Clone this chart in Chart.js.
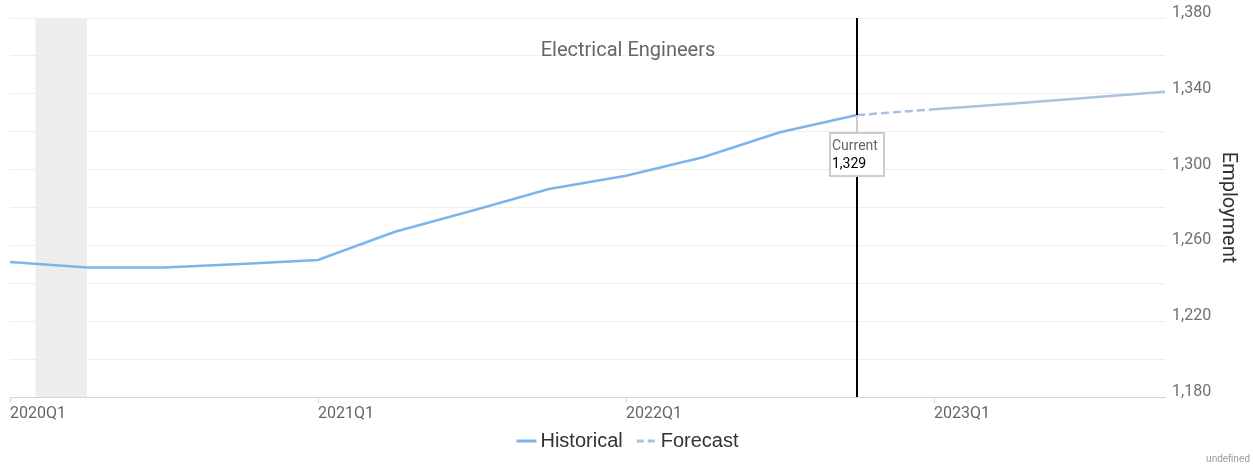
<!DOCTYPE html>
<html>
<head>
<meta charset="utf-8">
<script src="https://cdn.jsdelivr.net/npm/chart.js@4.4.0/dist/chart.umd.min.js"></script>
<style>
  html, body { margin: 0; padding: 0; background: #fff; }
  #wrap { width: 1253px; height: 467px; position: relative; }
</style>
</head>
<body>
<div id="wrap"><canvas id="employment-chart"></canvas></div>
<script>
const quarters = [
  '2020Q1', '2020Q2', '2020Q3', '2020Q4',
  '2021Q1', '2021Q2', '2021Q3', '2021Q4',
  '2022Q1', '2022Q2', '2022Q3', '2022Q4',
  '2023Q1', '2023Q2', '2023Q3', '2023Q4'
];
const historical = [1251.2, 1248.4, 1248.4, 1250.2, 1252.3, 1267.2, 1278.3, 1289.8, 1296.8, 1306.5, 1319.7, 1328.8];
const forecastStart = 11;
const forecast = [1328.8, 1331.8, 1334.8, 1337.9, 1341.1];
const yLabels = [1180, 1220, 1260, 1300, 1340, 1380];
const recession = [0.33, 1]; // Feb 2020 - Apr 2020, in quarters
const currentIndex = 11;
const chartTitle = 'Electrical Engineers';
const axisTitle = 'Employment';
const legendItems = [
  { text: 'Historical', color: '#7cb5ec', dash: [] },
  { text: 'Forecast', color: '#abc1dd', dash: [7, 4] }
];

const histPoints = historical.map((v, i) => ({ x: i, y: v }));
const forePoints = forecast.map((v, i) => ({ x: forecastStart + i, y: v }));

const extras = {
  id: 'extras',
  beforeDatasetsDraw(chart) {
    const { ctx, chartArea, scales } = chart;
    const x0 = scales.x.getPixelForValue(recession[0]);
    const x1 = scales.x.getPixelForValue(recession[1]);
    ctx.save();
    ctx.fillStyle = '#eeeeee';
    ctx.fillRect(x0, chartArea.top, x1 - x0, chartArea.bottom - chartArea.top);
    ctx.restore();
  },
  afterDatasetsDraw(chart) {
    const { ctx, chartArea, scales } = chart;
    ctx.save();
    // title
    ctx.font = '20px Roboto';
    ctx.fillStyle = '#666666';
    ctx.textAlign = 'center';
    ctx.textBaseline = 'middle';
    ctx.fillText(chartTitle, 628, 51);

    // current marker
    const cx = Math.round(scales.x.getPixelForValue(currentIndex));
    const cy = scales.y.getPixelForValue(historical[currentIndex]);
    ctx.strokeStyle = '#000';
    ctx.lineWidth = 2;
    ctx.beginPath();
    ctx.moveTo(cx, chartArea.top);
    ctx.lineTo(cx, chartArea.bottom);
    ctx.stroke();

    const boxW = 54, boxH = 43;
    const boxTop = cy + 18;
    ctx.strokeStyle = '#cccccc';
    ctx.beginPath();
    ctx.moveTo(cx, cy);
    ctx.lineTo(cx, boxTop);
    ctx.stroke();
    ctx.fillStyle = '#fff';
    ctx.fillRect(cx - boxW / 2, boxTop, boxW, boxH);
    ctx.strokeRect(cx - boxW / 2, boxTop, boxW, boxH);
    ctx.textAlign = 'left';
    ctx.font = '14px Roboto';
    ctx.fillStyle = '#666666';
    ctx.fillText('Current', cx - boxW / 2 + 2, boxTop + 13);
    ctx.fillStyle = '#000';
    ctx.fillText(Math.round(historical[currentIndex]).toLocaleString('en-US'), cx - boxW / 2 + 2, boxTop + 31);

    // legend
    ctx.font = '20px "Liberation Sans", Arial';
    const symW = 20, gap = 4, itemGap = 14;
    let total = 0;
    legendItems.forEach((it, i) => {
      total += symW + gap + ctx.measureText(it.text).width + (i ? itemGap : 0);
    });
    let lx = chart.width / 2 + 1 - total / 2;
    const ly = 441;
    legendItems.forEach(it => {
      ctx.strokeStyle = it.color;
      ctx.lineWidth = 3;
      ctx.setLineDash(it.dash);
      ctx.beginPath();
      ctx.moveTo(lx, ly);
      ctx.lineTo(lx + symW, ly);
      ctx.stroke();
      ctx.setLineDash([]);
      ctx.fillStyle = '#333333';
      ctx.fillText(it.text, lx + symW + gap, ly);
      lx += symW + gap + ctx.measureText(it.text).width + itemGap;
    });

    ctx.font = '10px "Liberation Sans", Arial';
    ctx.fillStyle = '#999999';
    ctx.textAlign = 'right';
    ctx.fillText('undefined', 1250, 459);
    ctx.restore();
  }
};

new Chart(document.getElementById('employment-chart'), {
  type: 'line',
  data: {
    datasets: [
      {
        label: 'Historical',
        data: histPoints,
        borderColor: '#7cb5ec',
        borderWidth: 2.5,
        pointRadius: 0,
        tension: 0,
        fill: false
      },
      {
        label: 'Forecast',
        data: forePoints,
        borderColor: '#abc1dd',
        borderWidth: 2.5,
        pointRadius: 0,
        tension: 0,
        fill: false,
        segment: {
          borderDash: ctx => ctx.p0DataIndex === 0 ? [8, 4] : []
        }
      }
    ]
  },
  options: {
    responsive: true,
    maintainAspectRatio: false,
    animation: false,
    layout: { padding: { left: 10, top: 18, right: 0, bottom: 45 } },
    plugins: {
      legend: { display: false },
      tooltip: { enabled: false }
    },
    scales: {
      x: {
        type: 'linear',
        min: 0,
        max: quarters.length - 1,
        afterFit(scale) { scale.height = 25; },
        grid: { drawOnChartArea: false, drawTicks: true, tickLength: 6, color: '#ccd6eb' },
        border: { color: '#ccd6eb', width: 1 },
        ticks: {
          stepSize: 4,
          includeBounds: false,
          align: 'start',
          padding: 1,
          maxRotation: 0,
          color: '#666666',
          font: { family: 'Roboto', size: 16 },
          callback: v => quarters[v]
        }
      },
      y: {
        position: 'right',
        min: 1180,
        max: 1380,
        afterFit(scale) { scale.width = 88; },
        grid: { color: '#eeeeee', drawTicks: false },
        border: { display: false },
        title: {
          display: true,
          text: axisTitle,
          color: '#333333',
          font: { family: 'Roboto', size: 20 },
          padding: { top: 13, bottom: 0 }
        },
        ticks: {
          stepSize: 20,
          padding: 7,
          labelOffset: -5,
          color: '#707070',
          font: { family: 'Roboto', size: 16 },
          callback: v => yLabels.includes(v) ? v.toLocaleString('en-US') : ''
        }
      }
    }
  },
  plugins: [extras]
});
</script>
</body>
</html>
